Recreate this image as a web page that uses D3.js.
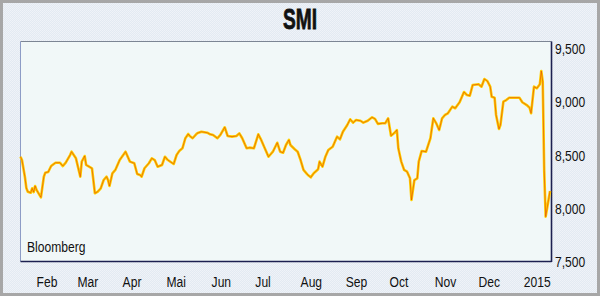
<!DOCTYPE html>
<html>
<head>
<meta charset="utf-8">
<script src="https://cdn.jsdelivr.net/npm/d3@7"></script>
<style>
  body { margin: 0; background: #fff; }
  text { font-family: "Liberation Sans", Arial, sans-serif; fill: #111; }
</style>
</head>
<body>
<div class="container"></div>
<script>
"use strict";

const width = 600;
const height = 296;

// SMI Schlusskurse
const dates = [
  "2014-01-21","2014-01-22","2014-01-24","2014-01-25","2014-01-26","2014-01-28","2014-01-29","2014-01-30","2014-01-31",
  "2014-02-01","2014-02-04","2014-02-06","2014-02-07","2014-02-09","2014-02-11","2014-02-14","2014-02-17","2014-02-19",
  "2014-02-21","2014-02-24","2014-02-25","2014-02-28",
  "2014-03-03","2014-03-04","2014-03-06","2014-03-07","2014-03-11","2014-03-13","2014-03-15","2014-03-17","2014-03-19",
  "2014-03-21","2014-03-22","2014-03-23","2014-03-25","2014-03-27","2014-03-30",
  "2014-04-03","2014-04-06","2014-04-09","2014-04-11","2014-04-13","2014-04-14","2014-04-16","2014-04-19","2014-04-21",
  "2014-04-23","2014-04-25","2014-04-28","2014-04-30",
  "2014-05-02","2014-05-06","2014-05-08","2014-05-10","2014-05-12","2014-05-14","2014-05-16","2014-05-17","2014-05-19",
  "2014-05-22","2014-05-23","2014-05-25","2014-05-29","2014-05-31",
  "2014-06-02","2014-06-05","2014-06-07","2014-06-10","2014-06-12","2014-06-15","2014-06-18","2014-06-20","2014-06-22",
  "2014-06-25","2014-06-27","2014-06-30",
  "2014-07-03","2014-07-05","2014-07-07","2014-07-10","2014-07-13","2014-07-16","2014-07-18","2014-07-20","2014-07-22",
  "2014-07-24","2014-07-25","2014-07-28","2014-07-30",
  "2014-08-01","2014-08-03","2014-08-05","2014-08-06","2014-08-08","2014-08-10","2014-08-13","2014-08-14","2014-08-16",
  "2014-08-18","2014-08-20","2014-08-23","2014-08-26","2014-08-28","2014-08-30",
  "2014-09-02","2014-09-04","2014-09-06","2014-09-08","2014-09-11","2014-09-13","2014-09-16","2014-09-19","2014-09-21",
  "2014-09-23","2014-09-26","2014-09-28","2014-09-30",
  "2014-10-02","2014-10-04","2014-10-06","2014-10-07","2014-10-09","2014-10-11","2014-10-13","2014-10-15","2014-10-16",
  "2014-10-18","2014-10-20","2014-10-21","2014-10-23","2014-10-26","2014-10-29","2014-10-31",
  "2014-11-02","2014-11-04","2014-11-06","2014-11-08","2014-11-10","2014-11-13","2014-11-15","2014-11-18","2014-11-21",
  "2014-11-23","2014-11-25","2014-11-27",
  "2014-12-01","2014-12-03","2014-12-05","2014-12-07","2014-12-09","2014-12-10","2014-12-12","2014-12-13","2014-12-15",
  "2014-12-16","2014-12-18","2014-12-20","2014-12-22","2014-12-26","2014-12-29","2014-12-31",
  "2015-01-03","2015-01-05","2015-01-06","2015-01-08","2015-01-10","2015-01-12","2015-01-13","2015-01-14","2015-01-15",
  "2015-01-16","2015-01-18","2015-01-19"
];

const smi = [
  8481, 8450, 8294, 8188, 8154, 8144, 8185, 8150, 8207,
  8170, 8101, 8294, 8332, 8338, 8394, 8425, 8425, 8394,
  8425, 8497, 8528, 8466,
  8294, 8435, 8488, 8404, 8373, 8139, 8154, 8185, 8263,
  8294, 8263, 8207, 8326, 8357, 8450,
  8528, 8435, 8420, 8319, 8310, 8294, 8373, 8420, 8466,
  8450, 8388, 8404, 8481,
  8450, 8413, 8497, 8538, 8560, 8654, 8694, 8675, 8654,
  8700, 8706, 8715, 8706, 8691,
  8685, 8654, 8685, 8757, 8675, 8669, 8675, 8700, 8654,
  8560, 8566, 8560,
  8691, 8638, 8575, 8481, 8528, 8612, 8528, 8519, 8591,
  8638, 8591, 8551, 8528,
  8450, 8357, 8326, 8310, 8288, 8326, 8363, 8435, 8388,
  8481, 8544, 8575, 8669, 8644, 8715,
  8778, 8832, 8800, 8825, 8818, 8800, 8818, 8850, 8836,
  8789, 8794, 8794, 8841,
  8678, 8700, 8731, 8560, 8435, 8357, 8341, 8279, 8076,
  8263, 8279, 8435, 8535, 8528, 8654, 8841,
  8794, 8731, 8841, 8872, 8888, 8950, 8935, 8992, 9087,
  9059, 9053, 9153,
  9159, 9137, 9209, 9190, 9137, 9043, 9034, 8872, 8741,
  8778, 8996, 9012, 9034, 9034, 9034, 8991,
  8965, 8940, 8888, 9137, 9122, 9159, 9284, 9184, 8350,
  7920, 8080, 8160
];

const monthLabels = ["Feb", "Mar", "Apr", "Mai", "Jun", "Jul", "Aug", "Sep", "Oct", "Nov", "Dec", "2015"];
const monthStarts = ["2014-02-01","2014-03-01","2014-04-01","2014-05-01","2014-06-01","2014-07-01",
                     "2014-08-01","2014-09-01","2014-10-01","2014-11-01","2014-12-01","2015-01-01"];
const yTicks = [7500, 8000, 8500, 9000, 9500];

const parse = d3.timeParse("%Y-%m-%d");
const data = dates.map((d, i) => ({ date: parse(d), value: smi[i] }));

const plot = { left: 20.5, right: 551.5, top: 41.5, bottom: 261.5 };
const narrow = 0.78;

let svg = d3.select(".container")
  .append("svg")
  .attr("width", width)
  .attr("height", height);

// Hintergrund mit feinem Raster
let defs = svg.append("defs");
let pat = defs.append("pattern")
  .attr("id", "dither")
  .attr("width", 2)
  .attr("height", 2)
  .attr("patternUnits", "userSpaceOnUse");
pat.append("rect").attr("width", 2).attr("height", 2).attr("fill", "#e3eaf2");
pat.append("rect").attr("width", 1).attr("height", 1).attr("fill", "#f0f3f8");
pat.append("rect").attr("x", 1).attr("y", 1).attr("width", 1).attr("height", 1).attr("fill", "#eef2f7");

svg.append("rect")
  .attr("x", 0).attr("y", 0)
  .attr("width", width).attr("height", height)
  .attr("fill", "url(#dither)");

svg.append("rect")
  .attr("x", 1.5).attr("y", 1.5)
  .attr("width", width - 3).attr("height", height - 3)
  .attr("fill", "none")
  .attr("stroke", "#a7a7a7")
  .attr("stroke-width", 3);

let x = d3.scaleTime()
  .domain([parse("2014-01-21"), parse("2015-01-20")])
  .range([plot.left, plot.right]);

let y = d3.scaleLinear()
  .domain([7500, 9560])
  .range([plot.bottom, plot.top]);

// Plotfläche
svg.append("rect")
  .attr("x", plot.left).attr("y", plot.top)
  .attr("width", plot.right - plot.left).attr("height", plot.bottom - plot.top)
  .attr("fill", "#f1f8f8");

svg.append("line")
  .attr("x1", plot.left).attr("x2", plot.right)
  .attr("y1", plot.top).attr("y2", plot.top)
  .attr("stroke", "#7c8694").attr("stroke-width", 1);
svg.append("line")
  .attr("x1", plot.left).attr("x2", plot.left)
  .attr("y1", plot.top).attr("y2", plot.bottom)
  .attr("stroke", "#8d9cc6").attr("stroke-width", 1);
svg.append("line")
  .attr("x1", plot.right).attr("x2", plot.right)
  .attr("y1", plot.top).attr("y2", plot.bottom + 0.5)
  .attr("stroke", "#1c2050").attr("stroke-width", 1.6);
svg.append("line")
  .attr("x1", plot.left).attr("x2", plot.right)
  .attr("y1", plot.bottom).attr("y2", plot.bottom)
  .attr("stroke", "#1c2050").attr("stroke-width", 1.6);

// Kurve: gelber Rand, roter Kern
let line = d3.line()
  .x(d => x(d.date))
  .y(d => y(d.value));

let g = svg.append("g").attr("class", "series");
g.append("path")
  .datum(data)
  .attr("d", line)
  .attr("fill", "none")
  .attr("stroke", "#ffd000")
  .attr("stroke-width", 2.6)
  .attr("stroke-linejoin", "round");
g.append("path")
  .datum(data)
  .attr("d", line)
  .attr("fill", "none")
  .attr("stroke", "#e0400c")
  .attr("stroke-opacity", 0.6)
  .attr("stroke-width", 1)
  .attr("stroke-linejoin", "round");

// schmale Schrift per horizontaler Skalierung
function label(sel, px, py) {
  return sel.attr("transform", (d, i) =>
    "translate(" + px(d, i) + "," + py(d, i) + ") scale(" + narrow + ",1)");
}

// Y-Achse rechts
label(svg.append("g")
  .selectAll("text")
  .data(yTicks)
  .enter()
  .append("text")
  .attr("dy", "0.38em")
  .attr("font-size", 15.5)
  .text(d3.format(",")), () => 555, d => y(d));

// Monate
label(svg.append("g")
  .selectAll("text")
  .data(monthLabels)
  .enter()
  .append("text")
  .attr("font-size", 15.5)
  .text(d => d), (d, i) => x(parse(monthStarts[i])), () => 287);

svg.append("text")
  .attr("transform", "translate(27,252) scale(" + narrow + ",1)")
  .attr("font-size", 15.5)
  .text("Bloomberg");

svg.append("text")
  .attr("transform", "translate(300,29) scale(0.66,1)")
  .attr("text-anchor", "middle")
  .attr("font-size", 29)
  .attr("font-weight", "bold")
  .attr("stroke", "#111")
  .attr("stroke-width", 0.8)
  .text("SMI");
</script>
</body>
</html>
